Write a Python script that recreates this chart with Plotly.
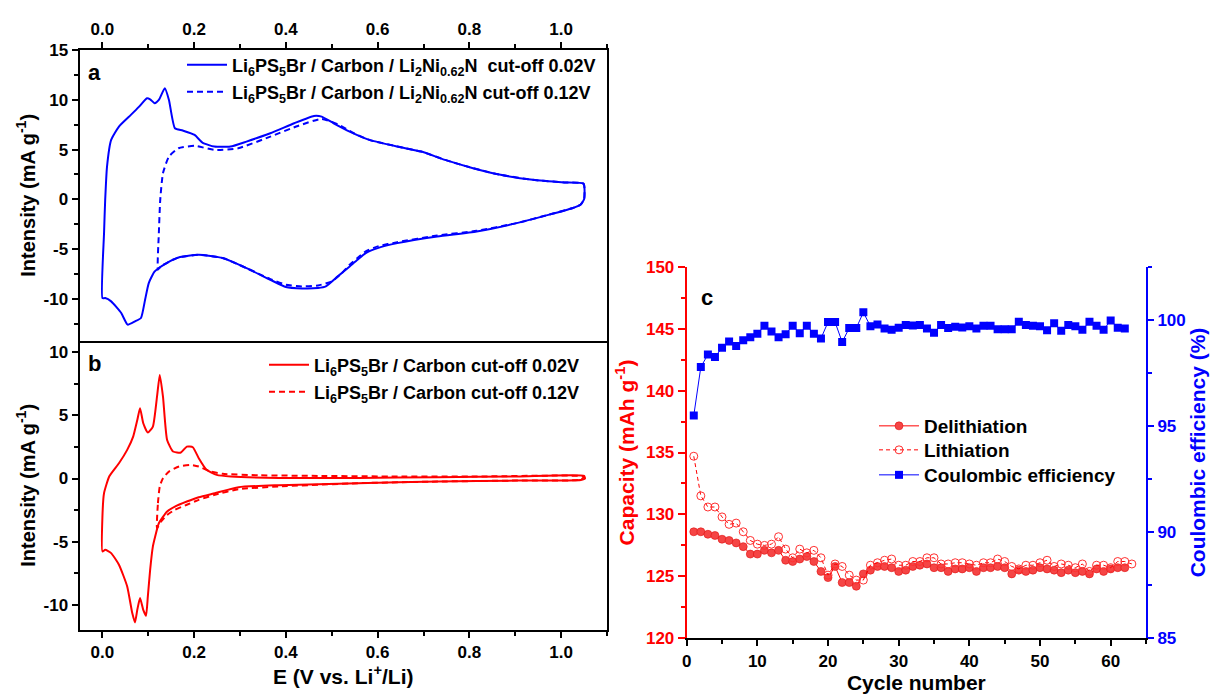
import plotly.graph_objects as go

# ---------------- Panel a: Li6PS5Br / Carbon / Li2Ni0.62N ----------------
a_solid_E = [0.000, 0.0035, 0.006, 0.010, 0.019, 0.036, 0.062, 0.080, 0.097, 0.104, 0.114, 0.123, 0.136, 0.145,
             0.158, 0.175, 0.201, 0.218, 0.244, 0.279, 0.314, 0.366, 0.418, 0.461, 0.478, 0.504, 0.539, 0.582,
             0.643, 0.695, 0.747, 0.808, 0.868, 0.938, 1.007, 1.049, 1.050, 1.042, 1.024, 0.972, 0.903, 0.816,
             0.730, 0.643, 0.600, 0.574, 0.556, 0.539, 0.513, 0.487, 0.470, 0.435, 0.400, 0.366, 0.314, 0.262,
             0.210, 0.166, 0.140, 0.114, 0.101, 0.093, 0.084, 0.071, 0.055, 0.041, 0.019, 0.006, 0.000]
a_solid_I = [-9.92, -3.39, -0.05, 3.29, 5.97, 7.31, 8.48, 9.31, 10.15, 10.05, 9.65, 9.98, 11.15, 9.98,
             7.14, 6.91, 6.47, 5.70, 5.30, 5.30, 5.80, 6.64, 7.64, 8.38, 8.31, 7.64, 6.81, 5.97,
             5.30, 4.80, 3.96, 3.13, 2.46, 1.96, 1.69, 1.56, 0.0, -0.55, -0.89, -1.56, -2.39, -3.23,
             -3.73, -4.40, -4.90, -5.40, -6.07, -6.74, -7.74, -8.75, -8.91, -8.95, -8.81, -8.08, -6.91, -5.90,
             -5.57, -5.84, -6.40, -7.24, -8.41, -10.08, -11.92, -12.26, -12.59, -11.42, -10.25, -9.92, -9.92]

a_dash_E = [0.121, 0.123, 0.126, 0.132, 0.145, 0.166, 0.201, 0.244, 0.296, 0.366, 0.426, 0.478, 0.513, 0.548,
            0.582, 0.643, 0.695, 0.747, 0.808, 0.868, 0.938, 1.007, 1.049, 1.050, 1.042, 1.024, 0.972, 0.903,
            0.816, 0.730, 0.643, 0.600, 0.574, 0.556, 0.539, 0.522, 0.500, 0.470, 0.435, 0.400, 0.366, 0.314,
            0.262, 0.210, 0.166, 0.140, 0.127, 0.121]
a_dash_I = [-7.07, -3.39, -0.05, 2.63, 4.30, 5.13, 5.37, 4.97, 5.13, 6.30, 7.37, 8.08, 7.54, 6.64,
            5.97, 5.30, 4.80, 3.96, 3.13, 2.46, 1.96, 1.69, 1.56, 0.0, -0.55, -0.89, -1.56, -2.39,
            -3.16, -3.63, -4.30, -4.73, -5.23, -5.90, -6.57, -7.41, -8.24, -8.65, -8.75, -8.58, -8.01, -6.91,
            -5.90, -5.57, -5.84, -6.40, -6.74, -7.07]

# ---------------- Panel b: Li6PS5Br / Carbon ----------------
b_solid_E = [0.000, 0.000, 0.0035, 0.015, 0.036, 0.054, 0.067, 0.076, 0.082, 0.089, 0.099, 0.110, 0.119, 0.125,
             0.132, 0.141, 0.154, 0.171, 0.184, 0.197, 0.210, 0.227, 0.249, 0.280, 0.384, 0.557, 0.731, 0.905,
             1.050, 1.052, 1.043, 0.905, 0.731, 0.557, 0.384, 0.297, 0.245, 0.210, 0.184, 0.158, 0.141, 0.123,
             0.115, 0.110, 0.104, 0.099, 0.095, 0.089, 0.082, 0.076, 0.071, 0.065, 0.054, 0.036, 0.019, 0.006,
             0.000]
b_solid_I = [-5.78, -3.01, -1.16, 0.18, 1.21, 2.27, 3.32, 4.64, 5.57, 4.38, 3.64, 4.12, 6.49, 8.21,
             6.49, 3.06, 2.14, 2.06, 2.53, 2.48, 1.61, 0.69, 0.29, 0.16, 0.05, 0.05, 0.11, 0.16,
             0.21, 0.0, -0.11, -0.16, -0.24, -0.37, -0.53, -0.69, -1.16, -1.48, -1.82, -2.22, -2.61, -3.54,
             -4.59, -5.38, -7.23, -9.34, -10.87, -10.40, -9.47, -10.40, -11.40, -10.66, -8.55, -6.83, -5.91, -5.65,
             -5.78]

b_dash_E = [0.119, 0.121, 0.125, 0.132, 0.145, 0.167, 0.193, 0.210, 0.236, 0.262, 0.340, 0.470, 0.644, 0.818,
            1.050, 1.043, 0.905, 0.731, 0.557, 0.384, 0.297, 0.245, 0.210, 0.184, 0.158, 0.141, 0.128, 0.119]
b_dash_I = [-3.93, -1.95, -0.63, 0.03, 0.55, 0.95, 1.08, 0.95, 0.55, 0.37, 0.26, 0.21, 0.16, 0.16,
            0.16, -0.08, -0.16, -0.24, -0.37, -0.63, -0.84, -1.29, -1.69, -2.08, -2.48, -2.88, -3.40, -3.93]

# ---------------- Panel c: cycling ----------------
cycles = list(range(1, 63))
cycles_lith = list(range(1, 64))
delithiation = [128.6, 128.6, 128.4, 128.3, 128.0, 127.9, 127.7, 127.4, 126.8, 126.8,
                127.1, 126.9, 127.1, 126.3, 126.2, 126.4, 126.6, 126.2, 125.4, 124.9,
                125.8, 124.5, 124.5, 124.2, 125.2, 125.5, 125.8, 125.8, 125.7, 125.4,
                125.5, 125.8, 125.9, 126.0, 125.7, 125.7, 125.4, 125.6, 125.6, 125.7,
                125.4, 125.7, 125.7, 125.8, 125.7, 125.2, 125.5, 125.4, 125.5, 125.7,
                125.6, 125.5, 125.3, 125.5, 125.3, 125.4, 125.2, 125.6, 125.4, 125.6,
                125.7, 125.7]
lithiation = [134.7, 131.5, 130.6, 130.6, 129.8, 129.2, 129.3, 128.6, 127.9, 127.6,
              127.5, 127.6, 128.2, 127.2, 126.5, 127.2, 126.9, 127.1, 126.5, 125.1,
              126.0, 125.8, 125.1, 124.7, 124.7, 125.9, 126.1, 126.3, 126.4, 125.9,
              125.9, 126.2, 126.2, 126.5, 126.5, 126.0, 126.0, 126.1, 126.1, 126.0,
              125.9, 126.1, 126.1, 126.4, 126.2, 125.8, 125.6, 125.9, 125.9, 126.1,
              126.3, 125.8, 126.0, 125.9, 125.7, 126.0, 125.4, 125.9, 125.9, 125.7,
              126.2, 126.2, 126.0]
coulombic = [95.49, 97.78, 98.36, 98.25, 98.68, 98.98, 98.77, 99.04, 99.18, 99.34,
             99.72, 99.45, 99.18, 99.32, 99.72, 99.37, 99.72, 99.34, 99.12, 99.89,
             99.89, 98.95, 99.61, 99.61, 100.35, 99.70, 99.78, 99.59, 99.53, 99.62,
             99.76, 99.73, 99.76, 99.59, 99.39, 99.76, 99.61, 99.67, 99.64, 99.70,
             99.59, 99.72, 99.72, 99.56, 99.56, 99.56, 99.91, 99.75, 99.72, 99.69,
             99.51, 99.84, 99.48, 99.75, 99.69, 99.53, 99.91, 99.72, 99.53, 99.97,
             99.62, 99.59]

# tick labels (plain hyphen minus, as in the original figure)
a_yticks = [-10, -5, 0, 5, 10, 15]
a_yticktext = ["-10", "-5", "0", "5", "10", "15"]
b_yticks = [-10, -5, 0, 5, 10]
b_yticktext = ["-10", "-5", "0", "5", "10"]

BLUE = "#0000ff"
RED = "#ff0000"
FONT = "Liberation Sans, Arial, sans-serif"

lab_a1 = "Li<sub>6</sub>PS<sub>5</sub>Br / Carbon / Li<sub>2</sub>Ni<sub>0.62</sub>N  cut-off 0.02V"
lab_a2 = "Li<sub>6</sub>PS<sub>5</sub>Br / Carbon / Li<sub>2</sub>Ni<sub>0.62</sub>N cut-off 0.12V"
lab_b1 = "Li<sub>6</sub>PS<sub>5</sub>Br / Carbon cut-off 0.02V"
lab_b2 = "Li<sub>6</sub>PS<sub>5</sub>Br / Carbon cut-off 0.12V"

fig = go.Figure()

fig.add_trace(go.Scatter(x=a_solid_E, y=a_solid_I, mode="lines", name=lab_a1,
                         line=dict(color=BLUE, width=2, shape="spline", smoothing=0.5),
                         xaxis="x", yaxis="y", legend="legend"))
fig.add_trace(go.Scatter(x=a_dash_E, y=a_dash_I, mode="lines", name=lab_a2,
                         line=dict(color=BLUE, width=2, dash="6px,4px", shape="spline", smoothing=0.5),
                         xaxis="x", yaxis="y", legend="legend2"))

fig.add_trace(go.Scatter(x=b_solid_E, y=b_solid_I, mode="lines", name=lab_b1,
                         line=dict(color=RED, width=2, shape="spline", smoothing=0.5),
                         xaxis="x2", yaxis="y2", legend="legend3"))
fig.add_trace(go.Scatter(x=b_dash_E, y=b_dash_I, mode="lines", name=lab_b2,
                         line=dict(color=RED, width=2, dash="6px,4px", shape="spline", smoothing=0.5),
                         xaxis="x2", yaxis="y2", legend="legend4"))

fig.add_trace(go.Scatter(x=cycles, y=delithiation, mode="lines+markers", name="Delithiation",
                         line=dict(color=RED, width=1),
                         marker=dict(symbol="circle", size=8, color="#f54545",
                                     line=dict(color="#e01010", width=0.6)),
                         xaxis="x3", yaxis="y3", legend="legend5"))
fig.add_trace(go.Scatter(x=cycles_lith, y=lithiation, mode="lines+markers", name="Lithiation",
                         line=dict(color=RED, width=1, dash="4px,3px"),
                         marker=dict(symbol="circle-open", size=8, color="#ff3030", line=dict(width=1)),
                         xaxis="x3", yaxis="y3", legend="legend6"))
fig.add_trace(go.Scatter(x=cycles, y=coulombic, mode="lines+markers", name="Coulombic efficiency",
                         line=dict(color=BLUE, width=1),
                         marker=dict(symbol="square", size=8, color=BLUE),
                         xaxis="x3", yaxis="y4", legend="legend7"))

W, H = 1213, 695
ab_x = [79.5 / W, 607 / W]
a_y = [1 - 340.7 / H, 1 - 50 / H]
b_y = [1 - 630 / H, 1 - 340.7 / H]
c_x = [686.7 / W, 1146 / W]
c_y = [1 - 638.3 / H, 1 - 266.7 / H]

tickf = dict(family=FONT, size=17, color="black", weight="bold")
titlef = dict(family=FONT, size=20, color="black", weight="bold")

common = dict(showline=True, linecolor="black", linewidth=2, ticks="outside", ticklen=6, tickwidth=1.5,
              tickcolor="black", showgrid=False, zeroline=False, tickfont=tickf, automargin=False)


def one_legend(px, py, size):
    return dict(x=px / W, y=1 - py / H, xanchor="left", yanchor="middle", bgcolor="rgba(0,0,0,0)",
                font=dict(family=FONT, size=size, color="black", weight="bold"), itemwidth=40)


fig.update_layout(
    width=W, height=H, margin=dict(l=0, r=0, t=0, b=0),
    paper_bgcolor="white", plot_bgcolor="white",
    xaxis=dict(domain=ab_x, anchor="y", range=[-0.05, 1.10], side="top", dtick=0.2, tick0=0,
               tickformat=".1f", mirror=True,
               minor=dict(dtick=0.1, tick0=0, ticks="outside", ticklen=4, tickcolor="black"), **common),
    yaxis=dict(domain=a_y, anchor="x", range=[-14.2, 15], tickvals=a_yticks, ticktext=a_yticktext, mirror=True,
               title=dict(text="Intensity (mA g<sup>-1</sup>)", font=titlef, standoff=3),
               minor=dict(dtick=2.5, tick0=0, ticks="outside", ticklen=4, tickcolor="black"), **common),
    xaxis2=dict(domain=ab_x, anchor="y2", range=[-0.05, 1.10], side="bottom", dtick=0.2, tick0=0,
                tickformat=".1f", mirror=False,
                title=dict(text="E (V vs. Li<sup>+</sup>/Li)",
                           font=dict(family=FONT, size=21, color="black", weight="bold"), standoff=8),
                minor=dict(dtick=0.1, tick0=0, ticks="outside", ticklen=4, tickcolor="black"), **common),
    yaxis2=dict(domain=b_y, anchor="x2", range=[-12, 10.92], tickvals=b_yticks, ticktext=b_yticktext, mirror=True,
                title=dict(text="Intensity (mA g<sup>-1</sup>)", font=titlef, standoff=3),
                minor=dict(dtick=2.5, tick0=0, ticks="outside", ticklen=4, tickcolor="black"), **common),
    xaxis3=dict(domain=c_x, anchor="y3", range=[0, 65], dtick=10, tick0=0,
                title=dict(text="Cycle number",
                           font=dict(family=FONT, size=21, color="black", weight="bold"), standoff=6),
                minor=dict(dtick=5, tick0=0, ticks="outside", ticklen=4, tickcolor="black"), **common),
    xaxis4=dict(domain=c_x, anchor="y3", overlaying="x3", side="top", range=[0, 65], dtick=10, tick0=0,
                showline=True, linecolor="black", linewidth=2, ticks="inside", ticklen=6, tickwidth=1.5,
                tickcolor="black", showticklabels=False, showgrid=False, zeroline=False, automargin=False,
                minor=dict(dtick=5, tick0=0, ticks="inside", ticklen=4, tickcolor="black")),
    yaxis3=dict(domain=c_y, anchor="x3", range=[120, 150], dtick=5, tick0=0,
                showline=True, linecolor=RED, linewidth=2, ticks="outside", ticklen=7, tickwidth=1.5,
                tickcolor=RED, showgrid=False, zeroline=False, automargin=False,
                tickfont=dict(family=FONT, size=17, color=RED, weight="bold"),
                title=dict(text="Capacity (mAh g<sup>-1</sup>)",
                           font=dict(family=FONT, size=21, color=RED, weight="bold"), standoff=6),
                minor=dict(dtick=2.5, tick0=0, ticks="outside", ticklen=4, tickcolor=RED)),
    yaxis4=dict(domain=c_y, anchor="x3", overlaying="y3", side="right", range=[85, 102.5], dtick=5, tick0=0,
                showline=True, linecolor=BLUE, linewidth=2, ticks="outside", ticklen=6, tickwidth=1.5,
                tickcolor=BLUE, showgrid=False, zeroline=False, automargin=False,
                tickfont=dict(family=FONT, size=17, color=BLUE, weight="bold"),
                title=dict(text="Coulombic efficiency (%)",
                           font=dict(family=FONT, size=21, color=BLUE, weight="bold"), standoff=6),
                minor=dict(dtick=2.5, tick0=0, ticks="outside", ticklen=4, tickcolor=BLUE)),
    legend=one_legend(182, 65, 18),
    legend2=one_legend(182, 92, 18),
    legend3=one_legend(264, 365, 18),
    legend4=one_legend(264, 392, 18),
    legend5=one_legend(874, 426, 19),
    legend6=one_legend(874, 450, 19),
    legend7=one_legend(874, 475, 19),
    annotations=[
        dict(text="a", x=86 / W, y=1 - 73 / H, xref="paper", yref="paper", showarrow=False,
             xanchor="left", yanchor="middle", font=dict(family=FONT, size=22, color="black", weight="bold")),
        dict(text="b", x=86 / W, y=1 - 363 / H, xref="paper", yref="paper", showarrow=False,
             xanchor="left", yanchor="middle", font=dict(family=FONT, size=22, color="black", weight="bold")),
        dict(text="c", x=699 / W, y=1 - 297 / H, xref="paper", yref="paper", showarrow=False,
             xanchor="left", yanchor="middle", font=dict(family=FONT, size=22, color="black", weight="bold")),
    ],
    showlegend=True,
)

fig.write_html("out.html", config={"displayModeBar": False},
               post_script="document.body.style.margin='0';document.body.style.padding='0';"
                           "document.body.style.overflow='hidden';")
